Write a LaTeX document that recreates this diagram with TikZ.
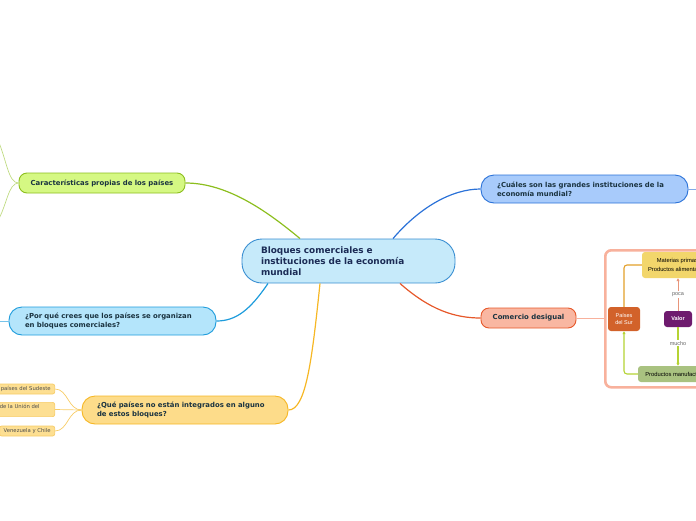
\documentclass[tikz,border=0pt]{standalone}
\usepackage{fontspec}
\setmainfont{DejaVu Sans}
\newfontfamily\imgfont{Liberation Sans}
\usetikzlibrary{arrows.meta}
\definecolor{tdark}{HTML}{1A3340}
\definecolor{cdark}{HTML}{1B2B55}
\definecolor{cenfill}{HTML}{C6EAFA}
\definecolor{cenline}{HTML}{3A8FD2}
\definecolor{carfill}{HTML}{D5F883}
\definecolor{carline}{HTML}{8CBE1E}
\definecolor{cuafill}{HTML}{A8CBFB}
\definecolor{cualine}{HTML}{2B72D8}
\definecolor{porfill}{HTML}{B4E5FB}
\definecolor{porline}{HTML}{1E9CDC}
\definecolor{comfill}{HTML}{F9B7A2}
\definecolor{comline}{HTML}{E6582A}
\definecolor{quefill}{HTML}{FDDC8A}
\definecolor{queline}{HTML}{F6B724}
\definecolor{leaffill}{HTML}{FDDF92}
\definecolor{leafline}{HTML}{F7CC66}
\definecolor{framecol}{HTML}{F8B19C}
\definecolor{matfill}{HTML}{F2D66B}
\definecolor{surfill}{HTML}{D2622A}
\definecolor{valfill}{HTML}{6E1B6E}
\definecolor{prodfill}{HTML}{A9C280}
\definecolor{ygline}{HTML}{B5D334}
\definecolor{orline}{HTML}{E3A02A}
\definecolor{saline}{HTML}{E8957A}
\tikzset{
  topic/.style={draw, line width=0.9pt, text=tdark, inner ysep=0pt,
    font=\bfseries\fontsize{6.9}{9}\selectfont},
  conn/.style={line width=1.2pt},
  thin leaf/.style={line width=0.7pt},
  leafbox/.style={draw=leafline, fill=leaffill, line width=0.7pt, rounded corners=2pt,
    inner xsep=4pt, inner ysep=0pt, minimum height=10pt, text=black!70,
    font=\fontsize{5.3}{7}\selectfont},
  imgbox/.style={rounded corners=3pt, inner sep=0pt,
    font=\imgfont\fontsize{5.8}{8.5}\selectfont, align=center},
  imglabel/.style={fill=white, inner sep=1pt, text=black!60, font=\imgfont\fontsize{5.5}{7}\selectfont},
  imgtip/.style={-{Triangle[length=3pt,width=3pt]}}
}
\begin{document}
\begin{tikzpicture}[x=1pt,y=1pt]
\useasboundingbox (0,0) rectangle (696,-520);
\clip (0,0) rectangle (696,-520);

% central
\node[draw=cenline, fill=cenfill, line width=0.9pt, rounded corners=20pt,
  text=cdark, font=\bfseries\fontsize{8.9}{11}\selectfont,
  text width=175pt, align=left, inner xsep=19pt, inner ysep=0pt, minimum height=44pt]
  (cen) at (348.5,-261) {Bloques comerciales e\\instituciones de la economía\\mundial};

% main topics
\node[topic, draw=carline, fill=carfill, rounded corners=8pt, minimum width=166pt, minimum height=20pt, inner xsep=0pt]
  (car) at (102,-183) {Características propias de los países};
\node[topic, draw=cualine, fill=cuafill, rounded corners=13pt, text width=175pt, align=left, inner xsep=16pt, minimum height=28pt]
  (cua) at (584.5,-189) {¿Cuáles son las grandes instituciones de la\\economía mundial?};
\node[topic, draw=porline, fill=porfill, rounded corners=13pt, text width=175pt, align=left, inner xsep=16pt, minimum height=28pt]
  (por) at (112.5,-321) {¿Por qué crees que los países se organizan\\en bloques comerciales?};
\node[topic, draw=comline, fill=comfill, rounded corners=8pt, minimum width=95pt, minimum height=20pt, inner xsep=0pt]
  (com) at (528.5,-318) {Comercio desigual};
\node[topic, draw=queline, fill=quefill, rounded corners=13pt, text width=176pt, align=left, inner xsep=15pt, minimum height=28pt]
  (que) at (185,-410) {¿Qué países no están integrados en alguno\\de estos bloques?};

% main connectors
\draw[conn, color=carline] ([xshift=-48.5pt]cen.north) .. controls (268,-212) and (228,-183) .. (car.east);
\draw[conn, color=cualine] ([xshift=44.5pt]cen.north) .. controls (420,-207) and (452,-189) .. (cua.west);
\draw[conn, color=porline] ([xshift=-80.5pt]cen.south) .. controls (250,-310) and (236,-321) .. (por.east);
\draw[conn, color=comline] ([xshift=51.5pt]cen.south) .. controls (430,-310) and (455,-318) .. (com.west);
\draw[conn, color=queline] ([xshift=-28.5pt]cen.south) .. controls (312,-360) and (306,-410) .. (que.east);

% stubs to off-picture children
\coordinate (carA) at (-3,-138);
\coordinate (carB) at (-3,-222);
\coordinate (porA) at (-5,-321);
\coordinate (cuaA) at (705,-189);
\draw[thin leaf, color=carline!55] (car.west) .. controls (8,-183) and (7,-160) .. (carA);
\draw[thin leaf, color=carline!55] (car.west) .. controls (8,-183) and (7,-206) .. (carB);
\draw[thin leaf, color=porline!60] (por.west) -- (porA);
\draw[thin leaf, color=cualine!60] (cua.east) -- (cuaA);

% leaves of que
\node[leafbox, anchor=east] (l1) at (55,-389) {países del Sudeste};
\node[leafbox, anchor=east, inner xsep=15pt, inner ysep=1.5pt, align=left] (l2) at (55,-409.5) {de la Unión del\\\phantom{x}};
\node[leafbox, anchor=east] (l3) at (55,-431) {Venezuela y Chile};
\draw[thin leaf, color=leafline] (que.west) .. controls (68,-410) and (68,-389) .. (l1.east);
\draw[thin leaf, color=leafline] (que.west) -- (l2.east);
\draw[thin leaf, color=leafline] (que.west) .. controls (68,-410) and (68,-431) .. (l3.east);

% image frame
\node[draw=framecol, line width=2.6pt, fill=white, rounded corners=6pt, anchor=north west,
  minimum width=110pt, minimum height=137pt, inner sep=0pt] (frame) at (604,-249) {};
\draw[thin leaf, color=framecol] (com.east) -- (frame.west |- com.east);

\node[imgbox, fill=matfill, minimum width=71pt, minimum height=26pt] (mat) at (677.5,-265)
  {Materias primas\\Productos alimentarios};
\node[imgbox, fill=surfill, text=white, minimum width=32pt, minimum height=24pt,
  font=\imgfont\fontsize{5.5}{7}\selectfont] (sur) at (624,-319) {Países\\del Sur};
\node[imgbox, fill=valfill, text=white, minimum width=28pt, minimum height=16pt,
  font=\imgfont\bfseries\fontsize{5.5}{7}\selectfont] (val) at (678,-319) {Valor};
\node[imgbox, fill=prodfill, minimum width=84pt, minimum height=16pt] (prod) at (680,-374)
  {Productos manufacturados};

\draw[line width=1.1pt, color=orline, rounded corners=3pt] (sur.north) |- (mat.west);
\draw[line width=1.1pt, color=ygline, rounded corners=3pt, imgtip] (prod.west) -| (sur.south);
\draw[line width=1pt, color=saline, imgtip]
  (val.north) -- (val.north |- mat.south) node[imglabel, midway] {poca};
\draw[line width=1.1pt, color=ygline, imgtip]
  (val.south) -- (val.south |- prod.north) node[imglabel, pos=0.42] {mucho};
\end{tikzpicture}
\end{document}
